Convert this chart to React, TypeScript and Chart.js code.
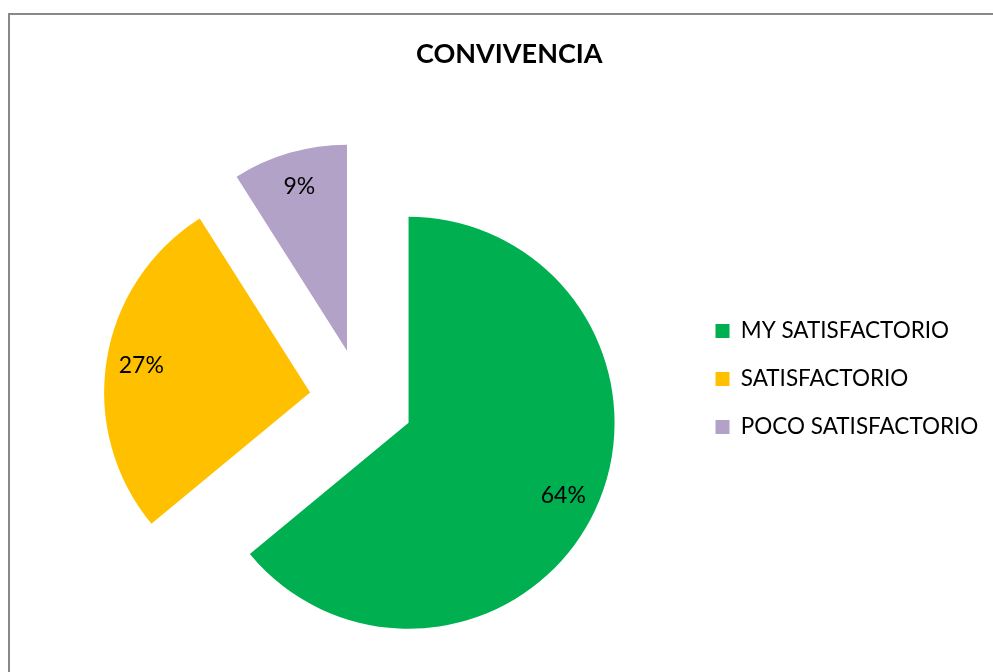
import React, { useEffect, useRef } from 'react';
import { Chart, registerables } from 'chart.js';

Chart.register(...registerables);

// ---- data ----
const TITLE = 'CONVIVENCIA';
const categories = ['MY SATISFACTORIO', 'SATISFACTORIO', 'POCO SATISFACTORIO'];
const values = [64, 27, 9];
const colors = ['#00B050', '#FFC000', '#B3A2C7'];

// ---- layout / style ----
const FONT = 'Lato, "Open Sans", sans-serif';
const CANVAS_W = 1018;
const CANVAS_H = 728;
const PIE_RADIUS = 206;
const EXPLODE = 52;
const LEGEND_W = 295.6;
const LABEL_POS = 0.83;

const explodePlugin = {
  id: 'explodeSlices',
  afterDatasetUpdate(chart: any, args: any) {
    args.meta.data.forEach((arc: any) => {
      const mid = (arc.startAngle + arc.endAngle) / 2;
      arc.x += Math.cos(mid) * EXPLODE;
      arc.y += Math.sin(mid) * EXPLODE;
    });
  },
};

const legendWidthPlugin = {
  id: 'legendWidth',
  beforeLayout(chart: any) {
    const legend = chart.legend;
    if (legend && !legend._fixedFit) {
      const orig = legend.fit;
      legend.fit = function () {
        orig.call(this);
        this.width = LEGEND_W;
      };
      legend._fixedFit = true;
    }
  },
};

const labelsPlugin = {
  id: 'pieLabels',
  afterDatasetsDraw(chart: any) {
    const ctx = chart.ctx;
    const meta = chart.getDatasetMeta(0);
    const data = chart.data.datasets[0].data as number[];
    const total = data.reduce((a, b) => a + b, 0);
    ctx.save();
    ctx.font = `23px ${FONT}`;
    ctx.fillStyle = '#000';
    ctx.textAlign = 'center';
    ctx.textBaseline = 'middle';
    meta.data.forEach((arc: any, i: number) => {
      const mid = (arc.startAngle + arc.endAngle) / 2;
      const r = arc.outerRadius * LABEL_POS;
      ctx.fillText(
        Math.round((data[i] / total) * 100) + '%',
        arc.x + Math.cos(mid) * r,
        arc.y + Math.sin(mid) * r
      );
    });
    ctx.restore();
  },
};

export default function App() {
  const ref = useRef<HTMLCanvasElement | null>(null);

  useEffect(() => {
    if (!ref.current) return;
    const chart = new Chart(ref.current, {
      type: 'pie',
      data: {
        labels: categories,
        datasets: [
          {
            data: values,
            backgroundColor: colors,
            borderWidth: 0,
            hoverOffset: 0,
          },
        ],
      },
      options: {
        responsive: false,
        maintainAspectRatio: false,
        animation: false,
        radius: PIE_RADIUS,
        layout: { padding: { left: 33, right: 32.4, top: 30, bottom: 0 } },
        events: [],
        plugins: {
          title: {
            display: true,
            text: TITLE,
            color: '#000',
            font: { family: FONT, size: 27, weight: 'bold', lineHeight: 1.2 },
            padding: { top: 8.3, bottom: 2.5 },
          },
          legend: {
            display: true,
            position: 'right',
            align: 'center',
            fullSize: true,
            labels: {
              boxWidth: 14,
              boxHeight: 14,
              padding: 25.5,
              color: '#000',
              font: { family: FONT, size: 22.5 },
            },
          },
          tooltip: { enabled: false },
        },
      } as any,
      plugins: [explodePlugin, legendWidthPlugin, labelsPlugin],
    });
    return () => chart.destroy();
  }, []);

  return (
    <div
      style={{
        position: 'fixed',
        left: 0,
        top: 0,
        width: 993,
        height: 672,
        overflow: 'hidden',
        background: '#fff',
      }}
    >
      <div
        style={{
          position: 'absolute',
          left: 8,
          top: 13,
          width: 2000,
          height: 2000,
          borderLeft: '2px solid #898989',
          borderTop: '2px solid #898989',
        }}
      />
      <canvas
        ref={ref}
        width={CANVAS_W}
        height={CANVAS_H}
        style={{ position: 'absolute', left: 0, top: 0, width: CANVAS_W, height: CANVAS_H, display: 'block' }}
      />
    </div>
  );
}
